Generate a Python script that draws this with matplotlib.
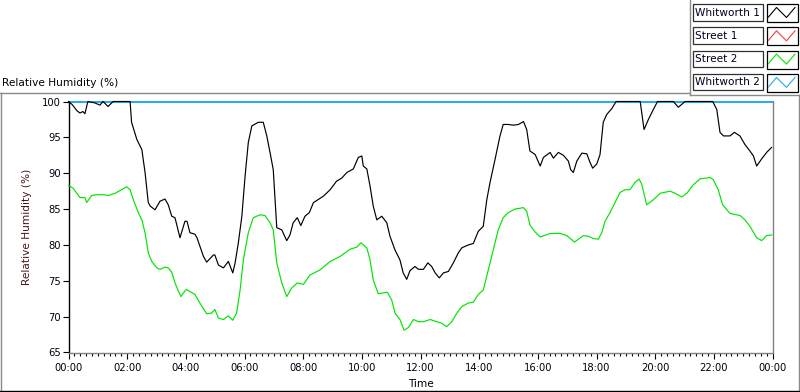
import matplotlib
matplotlib.use('Agg')
import matplotlib.pyplot as plt
from matplotlib.lines import Line2D
from matplotlib.patches import Rectangle

plt.rcParams['font.family'] = ['DejaVu Sans']

# ---------------- data ----------------
series_names = ["Whitworth 1", "Street 1", "Street 2", "Whitworth 2"]
series_colors = ["#000000", "#ff3a3a", "#00e600", "#22aaf0"]

whitworth1_hours = [0.00, 0.12, 0.29, 0.39, 0.49, 0.56, 0.66, 0.90, 1.07, 1.18, 1.35, 1.52,
                    2.10, 2.15, 2.33, 2.50, 2.61, 2.72, 2.79, 2.95, 3.12, 3.29, 3.40, 3.52,
                    3.63, 3.80, 3.97, 4.04, 4.14, 4.31, 4.38, 4.48, 4.60, 4.71, 4.94, 4.99,
                    5.11, 5.28, 5.45, 5.60, 5.68, 5.79, 5.91, 6.02, 6.13, 6.25, 6.47, 6.64,
                    6.76, 6.87, 6.98, 7.10, 7.27, 7.44, 7.55, 7.66, 7.80, 7.92, 8.06, 8.21,
                    8.35, 8.69, 8.92, 9.14, 9.31, 9.49, 9.71, 9.88, 10.00, 10.05, 10.17, 10.28,
                    10.39, 10.51, 10.68, 10.85, 10.96, 11.13, 11.30, 11.41, 11.53, 11.64, 11.81, 11.93,
                    12.10, 12.25, 12.38, 12.50, 12.64, 12.78, 12.95, 13.12, 13.29, 13.41, 13.63, 13.80,
                    13.97, 14.14, 14.26, 14.37, 14.54, 14.71, 14.82, 14.99, 15.17, 15.34, 15.51, 15.62,
                    15.73, 15.91, 16.08, 16.19, 16.42, 16.53, 16.70, 16.87, 17.04, 17.12, 17.21, 17.33,
                    17.50, 17.67, 17.78, 17.87, 18.01, 18.12, 18.23, 18.35, 18.52, 18.67, 19.49, 19.62,
                    19.77, 19.94, 20.08, 20.62, 20.79, 21.02, 21.96, 22.10, 22.21, 22.33, 22.55, 22.70,
                    22.89, 23.06, 23.23, 23.35, 23.46, 23.63, 23.80, 23.97]
whitworth1_rh = [100.0, 99.6, 98.7, 98.4, 98.6, 98.3, 100.0, 99.8, 99.5, 100.0, 99.3, 100.0,
                 100.0, 97.1, 94.7, 93.3, 90.1, 85.9, 85.4, 84.9, 86.1, 86.4, 85.6, 84.0,
                 83.8, 81.0, 83.3, 83.3, 81.7, 81.5, 81.0, 79.8, 78.4, 77.6, 78.6, 78.6,
                 77.2, 76.8, 77.7, 76.1, 77.5, 80.3, 84.0, 89.6, 94.3, 96.6, 97.1, 97.1,
                 95.2, 92.9, 90.5, 82.4, 82.1, 80.6, 81.4, 83.1, 83.8, 82.7, 84.0, 84.5,
                 85.9, 86.8, 87.7, 88.9, 89.3, 90.1, 90.6, 92.2, 92.4, 91.0, 90.6, 88.2,
                 85.4, 83.5, 84.0, 83.1, 81.2, 79.3, 77.9, 76.1, 75.2, 76.4, 77.0, 76.6,
                 76.6, 77.5, 77.0, 76.1, 75.4, 76.1, 76.3, 77.5, 78.9, 79.6, 80.0, 80.2,
                 81.9, 82.6, 86.3, 88.7, 91.9, 95.2, 96.8, 96.8, 96.7, 96.8, 97.2, 96.1,
                 93.1, 92.6, 91.0, 92.2, 92.9, 92.1, 92.9, 92.5, 91.7, 90.5, 90.1, 91.7,
                 92.8, 92.7, 91.5, 90.7, 91.3, 92.6, 97.1, 98.2, 99.0, 100.0, 100.0, 96.1,
                 97.5, 98.9, 100.0, 100.0, 99.2, 100.0, 100.0, 98.9, 95.7, 95.2, 95.2, 95.7,
                 95.2, 94.0, 93.1, 92.4, 91.0, 92.0, 92.9, 93.6]

street1_hours = []
street1_rh = []

street2_hours = [0.00, 0.16, 0.39, 0.56, 0.62, 0.79, 0.96, 1.19, 1.36, 1.59, 1.81, 1.98,
                 2.10, 2.21, 2.38, 2.50, 2.61, 2.72, 2.84, 3.01, 3.12, 3.29, 3.40, 3.52,
                 3.63, 3.83, 4.01, 4.14, 4.31, 4.48, 4.71, 4.88, 4.99, 5.11, 5.28, 5.45,
                 5.60, 5.73, 5.85, 5.96, 6.13, 6.30, 6.53, 6.70, 6.87, 6.98, 7.10, 7.27,
                 7.44, 7.61, 7.80, 8.01, 8.23, 8.57, 8.92, 9.26, 9.60, 9.83, 9.97, 10.17,
                 10.28, 10.39, 10.56, 10.71, 10.87, 11.02, 11.13, 11.30, 11.44, 11.59, 11.76, 11.93,
                 12.10, 12.33, 12.55, 12.72, 12.89, 13.07, 13.24, 13.41, 13.63, 13.80, 13.97, 14.14,
                 14.31, 14.48, 14.65, 14.82, 14.99, 15.22, 15.51, 15.62, 15.73, 15.91, 16.08, 16.42,
                 16.76, 16.99, 17.25, 17.55, 17.72, 17.89, 18.06, 18.18, 18.29, 18.46, 18.63, 18.80,
                 18.97, 19.14, 19.31, 19.45, 19.54, 19.71, 19.94, 20.17, 20.51, 20.68, 20.91, 21.08,
                 21.30, 21.53, 21.87, 21.98, 22.15, 22.30, 22.55, 22.89, 23.06, 23.23, 23.46, 23.63,
                 23.80, 23.97]
street2_rh = [88.3, 87.9, 86.6, 86.6, 85.9, 86.9, 87.0, 87.0, 86.9, 87.2, 87.7, 88.1,
              87.7, 86.3, 84.5, 83.5, 81.7, 78.9, 77.7, 76.8, 76.6, 76.9, 76.8, 76.2,
              74.7, 72.8, 73.8, 73.5, 73.1, 71.9, 70.4, 70.5, 71.0, 69.8, 69.6, 70.1,
              69.5, 70.5, 73.7, 77.9, 81.7, 83.8, 84.2, 84.1, 83.1, 82.1, 77.5, 74.7,
              72.8, 74.0, 74.7, 74.5, 75.8, 76.5, 77.7, 78.4, 79.4, 79.7, 80.3, 79.6,
              77.9, 75.1, 73.2, 73.3, 73.4, 72.3, 70.5, 69.6, 68.1, 68.5, 69.6, 69.3,
              69.3, 69.6, 69.3, 69.1, 68.6, 69.3, 70.5, 71.4, 71.9, 72.0, 73.1, 73.7,
              76.5, 79.3, 82.1, 83.8, 84.5, 85.0, 85.2, 84.7, 82.8, 81.8, 81.1, 81.6,
              81.6, 81.3, 80.4, 81.3, 81.2, 80.9, 80.8, 81.7, 83.3, 84.5, 85.9, 87.3,
              87.7, 87.7, 88.7, 89.2, 88.5, 85.6, 86.3, 87.2, 87.5, 87.2, 86.7, 87.2,
              88.4, 89.2, 89.4, 89.1, 87.7, 85.6, 84.4, 84.1, 83.5, 82.6, 81.0, 80.6,
              81.3, 81.4]

whitworth2_hours = [0.0, 24.0]
whitworth2_rh = [100.0, 100.0]

x_tick_hours = [0, 2, 4, 6, 8, 10, 12, 14, 16, 18, 20, 22, 24]
x_tick_labels = ["00:00", "02:00", "04:00", "06:00", "08:00", "10:00", "12:00",
                 "14:00", "16:00", "18:00", "20:00", "22:00", "00:00"]
y_ticks = [65, 70, 75, 80, 85, 90, 95, 100]

chart_title = "Relative Humidity (%)"
y_label = "Relative Humidity (%)"
x_label = "Time"

# ---------------- figure ----------------
W, H = 800, 392
fig = plt.figure(figsize=(W / 100, H / 100), dpi=100)
fig.patch.set_facecolor('white')


def fx(px):
    return px / W


def fy(py):
    return 1 - py / H


ax = fig.add_axes([fx(68.5), fy(352.5), 704 / W, 251 / H])
ax.set_xlim(0, 24)
ax.set_ylim(65, 100)
ax.set_facecolor('white')

ax.spines['top'].set_visible(False)
ax.spines['left'].set_color('black')
ax.spines['left'].set_linewidth(1.0)
ax.spines['bottom'].set_color('#808080')
ax.spines['bottom'].set_linewidth(1.0)
ax.spines['right'].set_color('#808080')
ax.spines['right'].set_linewidth(1.0)

ax.set_xticks(x_tick_hours)
ax.set_xticklabels(x_tick_labels)
ax.set_xticks([h / 5 for h in range(0, 121)], minor=True)
ax.set_yticks(y_ticks)
ax.set_yticklabels([str(v) for v in y_ticks])

ax.tick_params(axis='x', which='major', length=4.5, width=0.8, color='black',
               direction='out', pad=3, labelsize=7.2, labelcolor='#000010')
ax.tick_params(axis='x', which='minor', length=2.5, width=0.8, color='black',
               direction='out')
ax.tick_params(axis='y', which='major', length=4, width=0.8, color='black',
               direction='out', pad=1.5, labelsize=7.2, labelcolor='#000010')

all_hours = [whitworth1_hours, street1_hours, street2_hours, whitworth2_hours]
all_rh = [whitworth1_rh, street1_rh, street2_rh, whitworth2_rh]
zorders = [4, 2, 3, 1]
widths = [0.85, 0.85, 0.85, 1.4]
for hrs, vals, col, z, lw in zip(all_hours, all_rh, series_colors, zorders, widths):
    ax.plot(hrs, vals, color=col, lw=lw, zorder=z, clip_on=False)

ax.set_xlabel(x_label, fontsize=7.6, color='#000010', labelpad=2)
ax.xaxis.set_label_coords(0.5, -0.105)
ax.set_ylabel(y_label, fontsize=7.6, color='#4a1414', labelpad=6)
ax.yaxis.set_label_coords(-0.052, 0.5)

fig.text(fx(2), fy(83), chart_title, fontsize=7.6, ha='left', va='center', color='black')

# ---------------- frame lines ----------------
gray = '#8a8a8a'
frame = [
    ([0, 689], [92.5, 92.5], gray),
    ([689.5, 689.5], [0, 94.5], gray),
    ([689.5, 800], [94.5, 94.5], gray),
    ([1, 1], [92.5, 390], gray),
    ([798.5, 798.5], [94.5, 390], gray),
    ([0, 800], [390.5, 390.5], 'black'),
]
for xs, ys, c in frame:
    fig.add_artist(Line2D([fx(v) for v in xs], [fy(v) for v in ys], color=c,
                          lw=1.0, transform=fig.transFigure))

# ---------------- legend ----------------
for i, (name, col) in enumerate(zip(series_names, series_colors)):
    top = 4 + i * 23.3
    fig.add_artist(Rectangle((fx(692.5), fy(top + 16.5)), 70 / W, 16.5 / H,
                             facecolor='white', edgecolor='#303030', lw=0.9,
                             transform=fig.transFigure))
    fig.text(fx(695), fy(top + 8.5), name, fontsize=7.6, ha='left', va='center',
             color='#000020')
    fig.add_artist(Rectangle((fx(766.5), fy(top + 18)), 31 / W, 18 / H,
                             facecolor='white', edgecolor='black', lw=0.9,
                             transform=fig.transFigure))
    zx = [768.5, 776.5, 786.5, 795]
    zy = [top + 13, top + 3.5, top + 13.5, top + 3.5]
    fig.add_artist(Line2D([fx(v) for v in zx], [fy(v) for v in zy], color=col,
                          lw=0.8, transform=fig.transFigure))

fig.savefig('out.png', dpi=100, facecolor='white')
